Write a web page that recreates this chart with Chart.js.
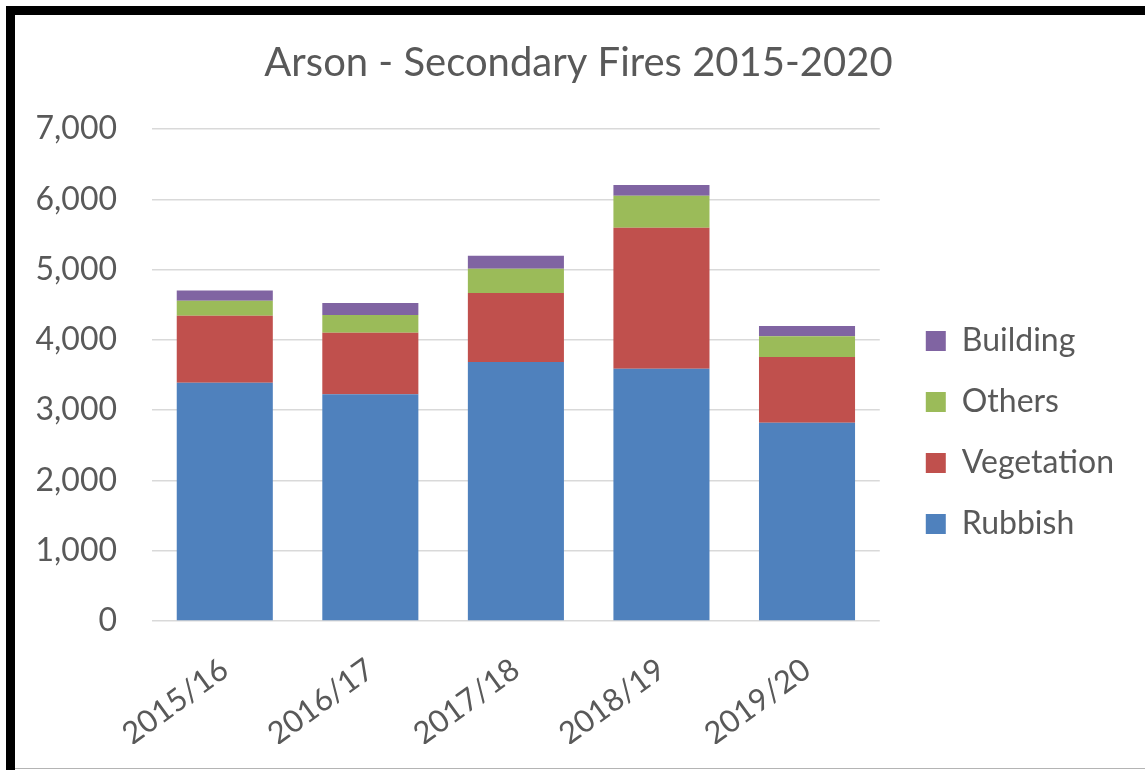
<!DOCTYPE html>
<html>
<head>
<meta charset="utf-8">
<script src="https://cdn.jsdelivr.net/npm/chart.js@4.4.1/dist/chart.umd.min.js"></script>
<style>
    html, body { margin: 0; padding: 0; background: #fff; }
    body { width: 1145px; height: 770px; position: relative; overflow: hidden; }
    .line { position: absolute; }
    #topLine { left: 6px; top: 6px; width: 1139px; height: 9px; background: #000; }
    #leftLine { left: 6px; top: 6px; width: 9px; height: 764px; background: #000; }
    #bottomLine { left: 15px; top: 768px; width: 1130px; height: 1px; background: #b4b4b4; }
    #wrap { position: absolute; left: 15px; top: 15px; width: 1130px; height: 753px; }
</style>
</head>
<body>
<div class="line" id="topLine"></div>
<div class="line" id="leftLine"></div>
<div class="line" id="bottomLine"></div>
<div id="wrap"><canvas id="chart"></canvas></div>
<script>
var categories = ["2015/16", "2016/17", "2017/18", "2018/19", "2019/20"];
var rubbish = [3390, 3225, 3686, 3590, 2822];
var vegetation = [954, 877, 981, 2006, 935];
var others = [214, 252, 346, 455, 293];
var building = [146, 171, 185, 152, 148];

var textColor = "#595959";
var fontFamily = "Lato, 'Open Sans', sans-serif";

function makeSet(label, data, color) {
    return {
        label: label,
        data: data,
        backgroundColor: color,
        borderWidth: 0,
        barPercentage: 0.66,
        categoryPercentage: 1
    };
}

var chart = new Chart(document.getElementById("chart").getContext("2d"), {
    type: "bar",
    data: {
        labels: categories,
        datasets: [
            makeSet("Rubbish", rubbish, "#4f81bd"),
            makeSet("Vegetation", vegetation, "#c0504d"),
            makeSet("Others", others, "#9bbb59"),
            makeSet("Building", building, "#8064a2")
        ]
    },
    options: {
        responsive: true,
        maintainAspectRatio: false,
        animation: false,
        layout: { padding: { left: 18, right: 21, top: 0, bottom: 24 } },
        plugins: {
            title: {
                display: true,
                text: "Arson - Secondary Fires 2015-2020",
                color: textColor,
                font: { family: fontFamily, size: 40, weight: "normal" },
                padding: { top: 24, bottom: 42 }
            },
            legend: {
                position: "right",
                align: "start",
                reverse: true,
                maxWidth: 235,
                title: {
                    display: true,
                    text: "",
                    font: { size: 10, lineHeight: 1 },
                    padding: { top: 271, bottom: 0 }
                },
                labels: {
                    color: textColor,
                    font: { family: fontFamily, size: 32 },
                    boxWidth: 20,
                    boxHeight: 20,
                    padding: 29
                }
            },
            tooltip: { enabled: false }
        },
        scales: {
            x: {
                stacked: true,
                grid: { display: false },
                border: { display: false },
                ticks: {
                    color: textColor,
                    font: { family: fontFamily, size: 31 },
                    minRotation: 36,
                    maxRotation: 36,
                    padding: 22
                },
                afterFit: function (scale) { scale.height = 123; }
            },
            y: {
                stacked: true,
                min: 0,
                max: 7000,
                grid: { color: "#d9d9d9", lineWidth: 1.5, drawTicks: false },
                border: { display: false },
                ticks: {
                    stepSize: 1000,
                    color: textColor,
                    font: { family: fontFamily, size: 32 },
                    padding: 35
                },
                afterFit: function (scale) { scale.width = 119; }
            },
            gap: {
                type: "linear",
                position: "right",
                display: true,
                grid: { display: false },
                border: { display: false },
                ticks: { display: false },
                afterFit: function (scale) { scale.width = 17; }
            }
        }
    }
});
</script>
</body>
</html>
